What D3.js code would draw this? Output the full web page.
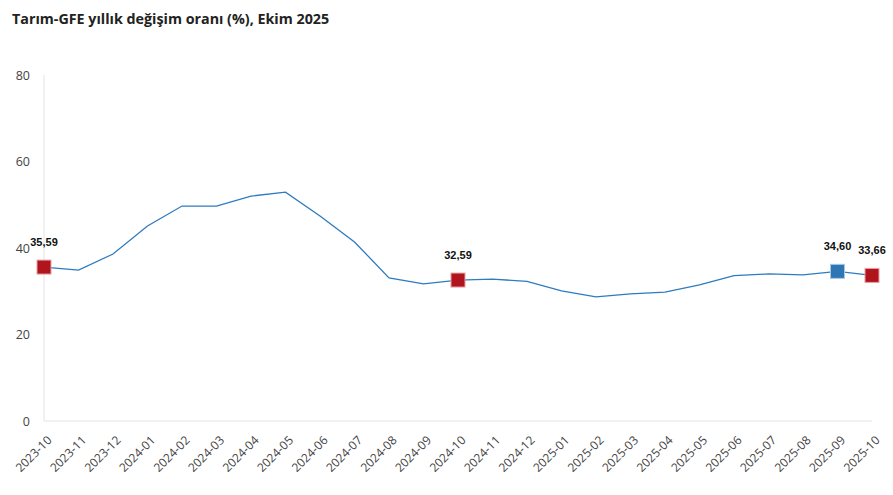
<!DOCTYPE html>
<html>
<head>
<meta charset="utf-8">
<script src="https://cdn.jsdelivr.net/npm/d3@7"></script>
<style>
  body { margin: 0; background: #fff; }
  svg { display: block; }
</style>
</head>
<body>
<script>
// Aylar
const months = ["2023-10","2023-11","2023-12","2024-01","2024-02","2024-03","2024-04","2024-05",
  "2024-06","2024-07","2024-08","2024-09","2024-10","2024-11","2024-12","2025-01","2025-02",
  "2025-03","2025-04","2025-05","2025-06","2025-07","2025-08","2025-09","2025-10"]

// Yıllık değişim (%)
const values = [35.59, 34.9, 38.6, 45.1, 49.7, 49.7, 52.0, 52.9, 47.4, 41.4, 33.1, 31.7, 32.59,
  32.8, 32.3, 30.1, 28.7, 29.4, 29.8, 31.5, 33.6, 34.0, 33.8, 34.60, 33.66]

const yTicks = [0, 20, 40, 60, 80]

// İşaretli noktalar
const marked = [
  { month: "2023-10", value: 35.59, label: "35,59", kind: "red" },
  { month: "2024-10", value: 32.59, label: "32,59", kind: "red" },
  { month: "2025-09", value: 34.60, label: "34,60", kind: "blue" },
  { month: "2025-10", value: 33.66, label: "33,66", kind: "red" }
]

const W = 893, H = 495
const margin = { top: 75, right: 21, bottom: 74, left: 44 }
const width = W - margin.left - margin.right
const height = H - margin.top - margin.bottom

const svg = d3.select("body").append("svg")
  .attr("width", W).attr("height", H)

// başlık
svg.append("text")
  .attr("x", 12).attr("y", 24)
  .style("font-family", "'Open Sans', sans-serif")
  .style("font-weight", "bold")
  .style("font-size", "14.3px")
  .style("fill", "#222")
  .text("Tarım-GFE yıllık değişim oranı (%), Ekim 2025")

const g = svg.append("g")
  .attr("transform", "translate(" + margin.left + "," + margin.top + ")")

const x = d3.scalePoint().domain(months).range([0, width])
const y = d3.scaleLinear().domain([0, 80]).range([height, 0])

// eksen çizgileri
g.append("line")
  .attr("x1", 0).attr("x2", 0).attr("y1", 0).attr("y2", height)
  .attr("stroke", "#e3e3e3")
g.append("line")
  .attr("x1", 0).attr("x2", width).attr("y1", height).attr("y2", height)
  .attr("stroke", "#e3e3e3")

// Y ekseni
const yAxis = g.append("g")
  .call(d3.axisLeft(y).tickValues(yTicks).tickSize(0).tickPadding(14))
yAxis.select(".domain").remove()
yAxis.selectAll("text")
  .style("font-family", "'Open Sans', sans-serif")
  .style("font-size", "12.5px")
  .style("fill", "#444")

// X ekseni
const xAxis = g.append("g")
  .attr("transform", "translate(0," + height + ")")
  .call(d3.axisBottom(x).tickSize(0))
xAxis.select(".domain").remove()
xAxis.selectAll("text")
  .attr("text-anchor", "end")
  .attr("dy", null)
  .attr("y", 0)
  .attr("transform", "translate(8,20) rotate(-45)")
  .style("font-family", "'Open Sans', sans-serif")
  .style("font-size", "12px")
  .style("fill", "#444")

// çizgi
const line = d3.line()
  .x((d, i) => x(months[i]))
  .y(d => y(d))

g.append("path")
  .datum(values)
  .attr("d", line)
  .attr("fill", "none")
  .attr("stroke", "#2e7bbf")
  .attr("stroke-width", 1.3)

// işaretler
const colors = { red: "#b0151e", blue: "#2e75b6" }
const s = 14
g.selectAll("rect.mark")
  .data(marked)
  .enter().append("rect")
  .attr("class", "mark")
  .attr("x", d => x(d.month) - s / 2)
  .attr("y", d => y(d.value) - s / 2)
  .attr("width", s).attr("height", s)
  .attr("fill", d => colors[d.kind])
  .attr("stroke", d => d.kind == "red" ? "#e8a0a4" : "#a9c8e6")
  .attr("stroke-width", 1)

g.selectAll("text.lbl")
  .data(marked)
  .enter().append("text")
  .attr("class", "lbl")
  .attr("x", d => x(d.month))
  .attr("y", d => y(d.value) - 21)
  .attr("text-anchor", "middle")
  .style("font-family", "'Liberation Sans', Arial, sans-serif")
  .style("font-weight", "bold")
  .style("font-size", "11px")
  .style("fill", "#111")
  .text(d => d.label)
</script>
</body>
</html>
